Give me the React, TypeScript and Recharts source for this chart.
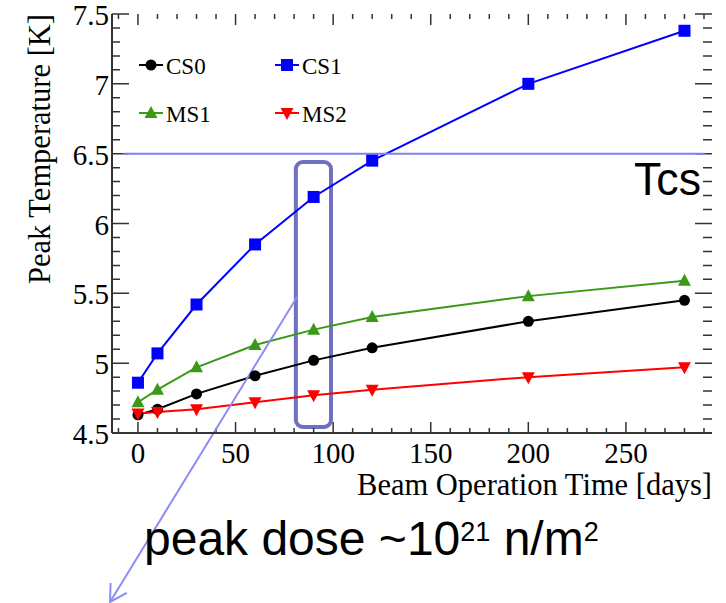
import React from "react";
import {
  LineChart,
  Line,
  XAxis,
  YAxis,
  ReferenceLine,
  ReferenceArea,
  Legend
} from "recharts";

// values
const DAYS = [0, 10, 30, 60, 90, 120, 200, 280];
const CS0 = [4.63, 4.67, 4.78, 4.91, 5.02, 5.11, 5.3, 5.45];
const CS1 = [4.86, 5.07, 5.42, 5.85, 6.19, 6.45, 7.0, 7.38];
const MS1 = [4.72, 4.81, 4.97, 5.13, 5.24, 5.33, 5.48, 5.59];
const MS2 = [4.64, 4.65, 4.67, 4.72, 4.77, 4.81, 4.9, 4.97];

const X_MAJOR = [0, 50, 100, 150, 200, 250];
const Y_MAJOR = [4.5, 5, 5.5, 6, 6.5, 7, 7.5];
const X_MINOR = Array.from({ length: 31 }, (_, i) => -10 + i * 10);
const Y_MINOR = Array.from({ length: 31 }, (_, i) => +(4.5 + i * 0.1).toFixed(1));

const TCS = 6.5;
// annotation box around the 90 day points, and the arrow to the dose note
const BOX = { x1: 80.9, x2: 98.9, y1: 4.543, y2: 6.44 };
const ARROW = [{ x: 81.5, y: 5.474 }, { x: -14.3, y: 3.29 }];
const TCS_SEGMENT = [{ x: -7.5, y: TCS }, { x: 290.5, y: TCS }];

const SERIES = [
  { key: "cs0", name: "CS0", color: "#000000", shape: "circle", values: CS0 },
  { key: "cs1", name: "CS1", color: "#0000ff", shape: "square", values: CS1 },
  { key: "ms1", name: "MS1", color: "#3a9a17", shape: "up", values: MS1 },
  { key: "ms2", name: "MS2", color: "#ff0000", shape: "down", values: MS2 }
];

const data = DAYS.map((day, i) => {
  const row: Record<string, number> = { day };
  SERIES.forEach((s) => (row[s.key] = s.values[i]));
  return row;
});

const SERIF = '"Liberation Serif", "Times New Roman", serif';
const SANS = '"Liberation Sans", Arial, sans-serif';
const FRAME = "#333333";

function marker(shape: string, cx: number, cy: number, color: string, key?: string) {
  if (shape === "circle") return <circle key={key} cx={cx} cy={cy} r={5.5} fill={color} />;
  if (shape === "square")
    return <rect key={key} x={cx - 6} y={cy - 6} width={12} height={12} fill={color} />;
  if (shape === "up")
    return (
      <polygon key={key} fill={color}
        points={`${cx},${cy - 7} ${cx - 6.5},${cy + 5} ${cx + 6.5},${cy + 5}`} />
    );
  return (
    <polygon key={key} fill={color}
      points={`${cx},${cy + 7} ${cx - 6.5},${cy - 5} ${cx + 6.5},${cy - 5}`} />
  );
}

const renderXLabel = (props: any) => {
  const { x, y, payload } = props;
  if (!X_MAJOR.includes(payload.value)) return <g key={`b-${payload.value}`} />;
  return (
    <text key={`b-${payload.value}`} x={x} y={y + 30} textAnchor="middle" fontFamily={SERIF}
      fontSize={29} fill="#000">
      {payload.value}
    </text>
  );
};

const renderYLabel = (props: any) => {
  const { x, y, payload } = props;
  if (!Y_MAJOR.includes(payload.value)) return <g key={`l-${payload.value}`} />;
  return (
    <text key={`l-${payload.value}`} x={x - 3} y={y + 11} textAnchor="end" fontFamily={SERIF}
      fontSize={29} fill="#000">
      {payload.value}
    </text>
  );
};

// ROOT style inward ticks, drawn as stubs at both ends of a reference line
const XTickMark = ({ x1, y1, y2, major }: any) => {
  const top = Math.min(y1, y2);
  const bot = Math.max(y1, y2);
  const len = major ? 11 : 5;
  return (
    <path d={`M${x1},${bot}V${bot - len}M${x1},${top}V${top + len}`}
      stroke={FRAME} strokeWidth={1.5} fill="none" />
  );
};

const YTickMark = ({ x1, x2, y1, major }: any) => {
  const left = Math.min(x1, x2);
  const right = Math.max(x1, x2);
  return (
    <path d={`M${left},${y1}H${left + (major ? 17 : 8)}M${right},${y1}H${right - (major ? 17 : 9)}`}
      stroke={FRAME} strokeWidth={1.5} fill="none" />
  );
};

const LegendBox = ({ payload }: any) => (
  <svg width={726} height={603} style={{ position: "absolute", left: 0, top: 0, overflow: "visible" }}>
    {(payload || []).map((p: any, i: number) => {
      const s = SERIES.find((d) => d.name === p.value) || SERIES[0];
      const cx = 151 + (i % 2) * 136;
      const cy = 65 + Math.floor(i / 2) * 48;
      return (
        <g key={s.key}>
          <line x1={cx - 12} y1={cy} x2={cx + 12} y2={cy} stroke={s.color} strokeWidth={2} />
          {marker(s.shape, cx, cy, s.color)}
          <text x={cx + 15} y={cy + 9} fontFamily={SERIF} fontSize={23} fill="#000">
            {s.name}
          </text>
        </g>
      );
    })}
  </svg>
);

const Arrow = ({ x1, y1, x2, y2 }: any) => {
  const a = Math.atan2(y1 - y2, x1 - x2);
  const len = 19;
  const w = Math.PI / 6;
  return (
    <g stroke="#8c8cf5" strokeWidth={2} fill="none">
      <line x1={x1} y1={y1} x2={x2} y2={y2} />
      <polyline
        points={`${x2 + len * Math.cos(a - w)},${y2 + len * Math.sin(a - w)} ${x2},${y2} ${x2 + len * Math.cos(a + w)},${y2 + len * Math.sin(a + w)}`}
      />
    </g>
  );
};

const Box = ({ x, y, width, height }: any) => (
  <rect x={x} y={y} width={width} height={height} rx={7} fill="none" stroke="#7070c0" strokeWidth={4} />
);

export default function App() {
  return (
    <div style={{ position: "absolute", left: 0, top: 0, width: 726, height: 603, background: "#fff" }}>
      <LineChart width={726} height={603} data={data} margin={{ top: 14, right: 14, bottom: 0, left: 0 }}>
        <XAxis dataKey="day" type="number" domain={[-13.3, 294.1]} allowDataOverflow
          ticks={X_MINOR} interval={0} height={170} tickSize={0} tickMargin={0}
          tickLine={false} axisLine={{ stroke: FRAME, strokeWidth: 2 }} tick={renderXLabel} />
        <XAxis xAxisId="top" orientation="top" dataKey="day" type="number" domain={[-13.3, 294.1]}
          allowDataOverflow height={0} tickLine={false} tick={false}
          axisLine={{ stroke: FRAME, strokeWidth: 2 }} />
        <YAxis type="number" domain={[4.5, 7.5]} allowDataOverflow ticks={Y_MINOR} interval={0}
          width={112} tickSize={0} tickMargin={0} tickLine={false}
          axisLine={{ stroke: FRAME, strokeWidth: 2 }} tick={renderYLabel} />
        <YAxis yAxisId="right" orientation="right" type="number" domain={[4.5, 7.5]} allowDataOverflow
          width={0} tickLine={false} tick={false} axisLine={{ stroke: FRAME, strokeWidth: 2 }} />
        <Legend verticalAlign="top" content={<LegendBox />}
          wrapperStyle={{ left: 0, top: 0, width: 0, height: 0 }} />
        {X_MINOR.map((v) => (
          <ReferenceLine key={`xt-${v}`} x={v} ifOverflow="visible"
            shape={<XTickMark major={X_MAJOR.includes(v)} />} />
        ))}
        {Y_MINOR.map((v) => (
          <ReferenceLine key={`yt-${v}`} y={v} ifOverflow="visible"
            shape={<YTickMark major={Y_MAJOR.includes(v)} />} />
        ))}
        {SERIES.map((s) => (
          <Line key={s.key} type="linear" dataKey={s.key} name={s.name} stroke={s.color}
            strokeWidth={2} isAnimationActive={false} activeDot={false}
            dot={(p: any) => marker(s.shape, p.cx, p.cy, s.color, `${s.key}-${p.index}`)} />
        ))}
        <ReferenceLine segment={TCS_SEGMENT} stroke="#8080f0" strokeWidth={2} ifOverflow="visible" />
        <ReferenceArea x1={BOX.x1} x2={BOX.x2} y1={BOX.y1} y2={BOX.y2} ifOverflow="visible" shape={<Box />} />
        <ReferenceLine segment={ARROW} ifOverflow="visible" shape={<Arrow />} />
      </LineChart>
      <svg width={726} height={603} style={{ position: "absolute", left: 0, top: 0, pointerEvents: "none" }}>
        <text x={50} y={14} transform="rotate(-90 50 14)" textAnchor="end" fontFamily={SERIF}
          fontSize={30.5} fill="#000">
          Peak Temperature [K]
        </text>
        <text x={712} y={495} textAnchor="end" fontFamily={SERIF} fontSize={30.5} fill="#000">
          Beam Operation Time [days]
        </text>
        <text x={634} y={195} fontFamily={SANS} fontSize={47} textLength={67}
          lengthAdjust="spacingAndGlyphs" fill="#000">
          Tcs
        </text>
        <text x={144} y={555} fontFamily={SANS} fontSize={48} fill="#000">
          peak dose ~10
          <tspan dy={-14} fontSize={27}>21</tspan>
          <tspan dy={14}> n/m</tspan>
          <tspan dy={-14} fontSize={27}>2</tspan>
        </text>
      </svg>
    </div>
  );
}
